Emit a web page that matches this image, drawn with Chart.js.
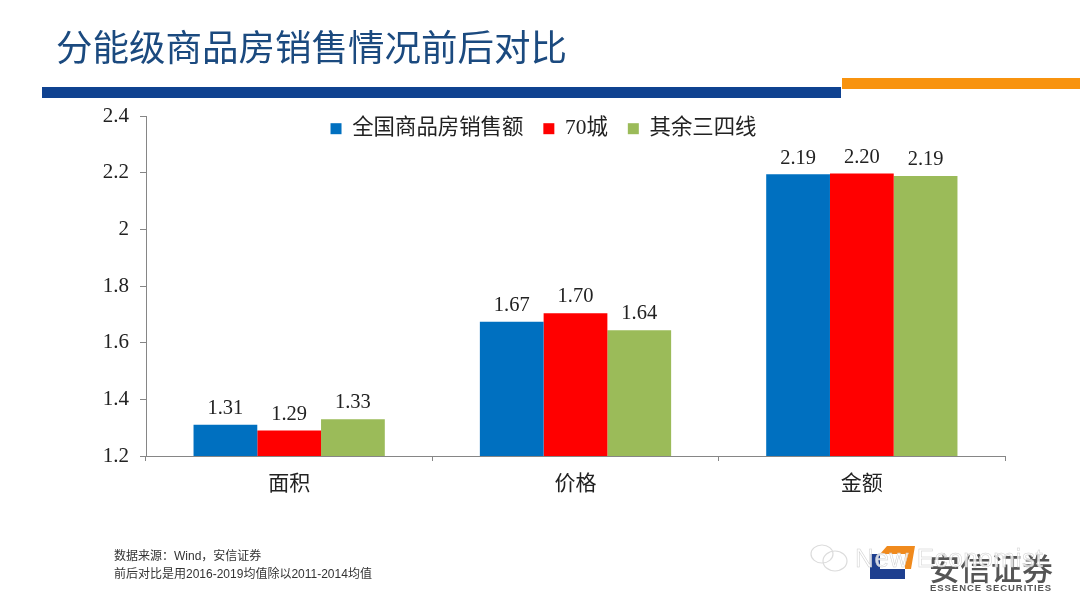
<!DOCTYPE html>
<html>
<head>
<meta charset="utf-8">
<script src="https://cdn.jsdelivr.net/npm/chart.js@4"></script>
<style>
html, body { margin: 0; padding: 0; background: #fff; overflow: hidden; }
#wrap { position: relative; width: 1080px; height: 603px; font-family: "Noto Sans CJK SC", sans-serif; }
#wrap div, #wrap svg { position: absolute; }
canvas { position: absolute; left: 0; top: 0; }
#title { left: 56px; top: 21px; font-size: 36.5px; line-height: 50px; color: #1b4a7f; white-space: nowrap; }
#barBlue { left: 42px; top: 87px; width: 799px; height: 11px; background: #0f4290; }
#barOrange { left: 842px; top: 78px; width: 238px; height: 11px; background: #f8930f; }
.note { left: 114px; font-size: 12px; line-height: 14px; color: #333; white-space: nowrap; font-family: "Liberation Sans", "Noto Sans CJK SC", sans-serif; }
#logoCn { left: 929px; top: 549px; font-size: 31px; line-height: 36px; font-weight: 500; color: #555; white-space: nowrap; }
#logoEn { left: 930px; top: 582px; font-size: 9.5px; line-height: 12px; font-weight: 700; color: #555; white-space: nowrap; font-family: "Liberation Sans", sans-serif; letter-spacing: .95px; }
#mark { left: 855px; top: 543px; font-size: 26px; line-height: 30px; color: rgba(255,255,255,.8); -webkit-text-stroke: .5px #cfcfcf; white-space: nowrap; font-family: "Liberation Sans", sans-serif; letter-spacing: .6px; z-index: 3; }
</style>
</head>
<body>
<div id="wrap">
  <canvas id="salesChart" width="1080" height="603"></canvas>
  <div id="title">分能级商品房销售情况前后对比</div>
  <div id="barBlue"></div>
  <div id="barOrange"></div>
  <div class="note" style="top:549px">数据来源：Wind，安信证券</div>
  <div class="note" style="top:567px">前后对比是用2016-2019均值除以2011-2014均值</div>
  <svg style="left:869px;top:545px" width="48" height="36">
    <path d="M1 9 H11 V24 H36 V34 H1 Z" fill="#1e3f8f"/>
    <path d="M11 9 L18 1 H46 L42 24 H36 V9 Z" fill="#f08a1d"/>
  </svg>
  <div id="logoCn">安信证券</div>
  <div id="logoEn">ESSENCE SECURITIES</div>
  <svg style="left:809px;top:543px;z-index:3" width="42" height="30" fill="none" stroke="#dcdcdc" stroke-width="1.2">
    <ellipse cx="13" cy="11" rx="11" ry="9"/>
    <ellipse cx="26" cy="18" rx="12" ry="10"/>
  </svg>
  <div id="mark">New Economist</div>
</div>
<script>
const categories = ['面积', '价格', '金额'];
const seriesNames = ['全国商品房销售额', '70城', '其余三四线'];
const nationalValues = [1.31, 1.674, 2.194];
const cityValues = [1.29, 1.704, 2.197];
const otherValues = [1.33, 1.644, 2.188];
const seriesColors = ['#0070c0', '#ff0000', '#9bbb59'];

const serifFont = '"Liberation Serif", "Noto Sans CJK SC", serif';

// Value labels above each bar
const valueLabels = {
    id: 'valueLabels',
    afterDatasetsDraw(chart) {
        const c = chart.ctx;
        c.save();
        c.font = '20.5px ' + serifFont;
        c.fillStyle = '#222';
        c.textAlign = 'center';
        c.textBaseline = 'bottom';
        chart.data.datasets.forEach((ds, i) => {
            chart.getDatasetMeta(i).data.forEach((bar, j) => {
                c.fillText(ds.data[j].toFixed(2), bar.x, bar.y - 6);
            });
        });
        c.restore();
    }
};

// Legend floats over the plot, nudged to where the original has it
const floatLegend = {
    id: 'floatLegend',
    beforeLayout(chart) {
        const legend = chart.legend;
        if (legend._floatFit) return;
        const fit = legend.fit;
        legend.fit = function () {
            fit.call(this);
            this.height = 0;
        };
        legend._floatFit = true;
    },
    afterLayout(chart) {
        const legend = chart.legend;
        legend.left += 41;
        legend.right += 41;
        legend.top -= 18;
        legend.bottom = legend.top + 50; // legend clips its drawing to this box
    }
};

new Chart(document.getElementById('salesChart').getContext('2d'), {
    type: 'bar',
    plugins: [valueLabels, floatLegend],
    data: {
        labels: categories,
        datasets: [
            { label: seriesNames[0], data: nationalValues, backgroundColor: seriesColors[0] },
            { label: seriesNames[1], data: cityValues, backgroundColor: seriesColors[1] },
            { label: seriesNames[2], data: otherValues, backgroundColor: seriesColors[2] }
        ]
    },
    options: {
        responsive: false,
        animation: false,
        layout: { padding: { top: 116, right: 75, bottom: 0, left: 0 } },
        datasets: { bar: { barPercentage: 1, categoryPercentage: 0.668 } },
        plugins: {
            tooltip: { enabled: false },
            legend: {
                position: 'top',
                align: 'center',
                labels: {
                    boxWidth: 11,
                    boxHeight: 11,
                    padding: 20,
                    color: '#222',
                    font: { family: serifFont, size: 21.4 }
                }
            }
        },
        scales: {
            x: {
                afterFit(scale) { scale.height = 147; },
                border: { color: '#868686', width: 1 },
                grid: { drawOnChartArea: false, color: '#868686', tickLength: 5 },
                ticks: { color: '#222', padding: 11, font: { family: serifFont, size: 21 } }
            },
            y: {
                min: 1.2,
                max: 2.4,
                afterFit(scale) { scale.width = 146; },
                border: { color: '#868686', width: 1 },
                grid: { drawOnChartArea: false, color: '#868686', tickLength: 6 },
                ticks: {
                    stepSize: 0.2,
                    color: '#222',
                    padding: 11,
                    font: { family: serifFont, size: 21 },
                    callback: value => String(Number(value.toFixed(1)))
                }
            }
        }
    }
});
</script>
</body>
</html>
